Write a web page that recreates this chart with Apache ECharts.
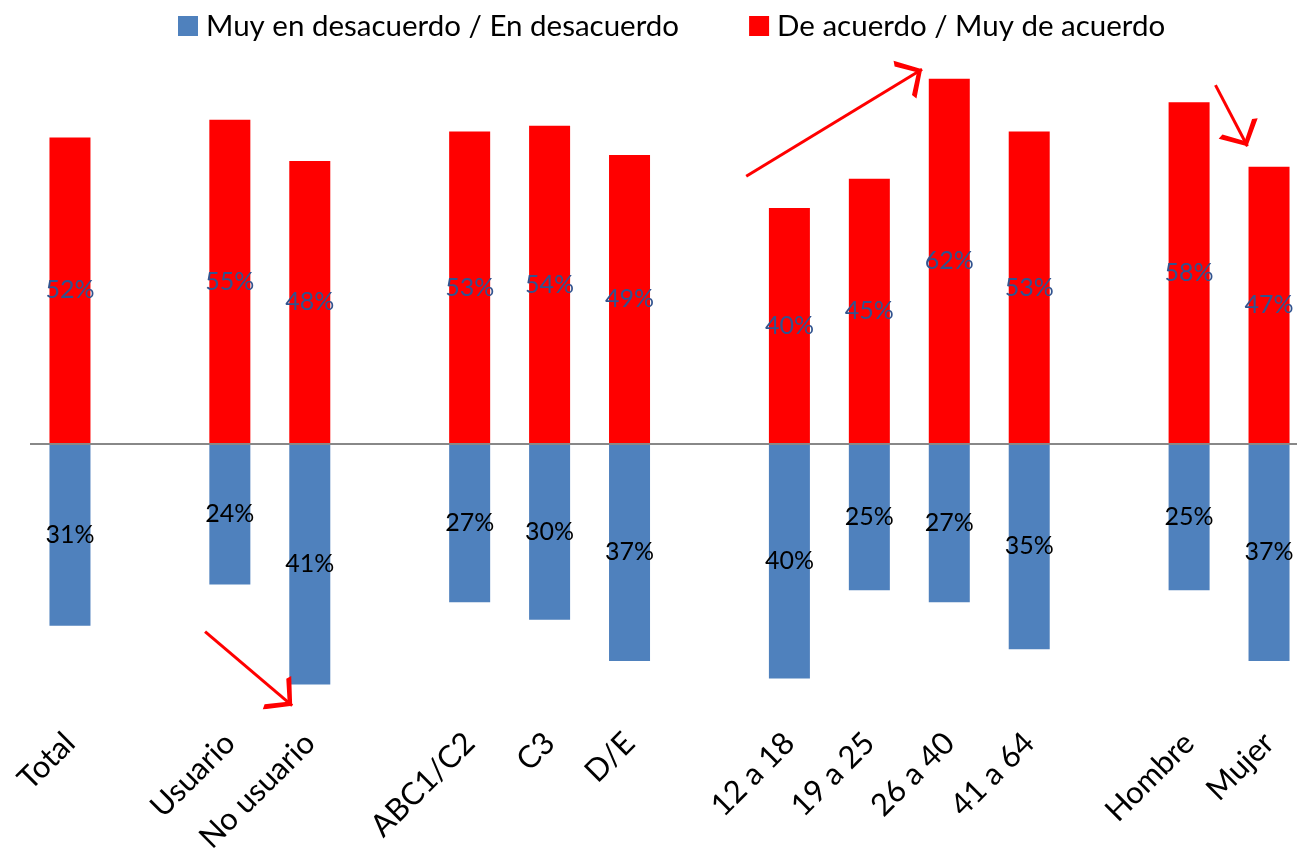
<!DOCTYPE html>
<html>
<head>
<meta charset="utf-8">
<script src="https://cdn.jsdelivr.net/npm/echarts@6/dist/echarts.min.js"></script>
<style>
html,body{margin:0;padding:0;background:#fff;}
#chart{width:1297px;height:862px;}
</style>
</head>
<body>
<div id="chart"></div>
<script>
const categories = ['Total', '', 'Usuario', 'No usuario', '', 'ABC1/C2', 'C3', 'D/E', '', '12 a 18', '19 a 25', '26 a 40', '41 a 64', '', 'Hombre', 'Mujer'];
const agreeValues = [52, null, 55, 48, null, 53, 54, 49, null, 40, 45, 62, 53, null, 58, 47];
const disagreeValues = [31, null, 24, 41, null, 27, 30, 37, null, 40, 25, 27, 35, null, 25, 37];
const seriesNames = ['Muy en desacuerdo / En desacuerdo', 'De acuerdo / Muy de acuerdo'];
// annotation arrows in data space: [categoryPosition, value]
const arrowLines = [
  [[1.69, -32.0], [2.78, -44.6]],
  [[8.46, 45.4], [10.66, 63.6]],
  [[14.33, 60.9], [14.73, 50.5]]
];

const FONT = 'Lato, "Open Sans", sans-serif';
const chart = echarts.init(document.getElementById('chart'), null, {renderer: 'canvas'});

const chevron = 'path://M50,88 L100,168 L88,176 L50,112 L12,176 L0,168 Z M50,0 L50.1,0 L50.1,0.1 Z';

chart.setOption({
  animation: false,
  backgroundColor: '#ffffff',
  textStyle: {fontFamily: FONT},
  legend: {
    data: seriesNames,
    top: 6,
    left: 173,
    itemWidth: 20,
    itemHeight: 20,
    itemGap: 70,
    icon: 'rect',
    textStyle: {fontFamily: FONT, fontSize: 29.5, color: '#000', padding: [0, 0, 0, 3]}
  },
  grid: {left: 30, width: 1279, top: 61, height: 647, containLabel: false, outerBoundsMode: 'none'},
  xAxis: [{
    type: 'category',
    data: categories,
    position: 'bottom',
    axisLine: {show: false},
    axisTick: {show: false},
    axisLabel: {interval: 0, rotate: 45, margin: 30, fontSize: 31, color: '#000', fontFamily: FONT}
  }, {
    type: 'value',
    min: -0.5,
    max: 15.5,
    show: false
  }],
  yAxis: {
    type: 'value',
    min: -45,
    max: 65,
    show: false,
    splitLine: {show: false}
  },
  series: [{
    name: seriesNames[0],
    type: 'bar',
    stack: 'total',
    barWidth: 41,
    data: disagreeValues.map(v => v == null ? null : -v),
    itemStyle: {color: '#4F81BD'},
    label: {
      show: true,
      position: 'inside',
      formatter: p => Math.abs(p.value) + '%',
      color: '#000',
      fontSize: 25,
      fontFamily: FONT
    }
  }, {
    name: seriesNames[1],
    type: 'bar',
    stack: 'total',
    barWidth: 41,
    data: agreeValues,
    itemStyle: {color: '#FF0000'},
    label: {
      show: true,
      position: 'inside',
      formatter: p => p.value + '%',
      color: '#31538F',
      fontSize: 25,
      fontFamily: FONT
    },
    markLine: {
      silent: true,
      symbol: 'none',
      label: {show: false},
      lineStyle: {color: '#888888', width: 2, type: 'solid'},
      data: [{yAxis: 0}]
    }
  }, {
    type: 'lines',
    coordinateSystem: 'cartesian2d',
    xAxisIndex: 1,
    yAxisIndex: 0,
    silent: true,
    symbol: ['none', chevron],
    symbolSize: [22, 44],
    lineStyle: {color: '#FF0000', width: 3, opacity: 1},
    data: arrowLines.map(c => ({coords: c})),
    z: 5
  }]
});
</script>
</body>
</html>
